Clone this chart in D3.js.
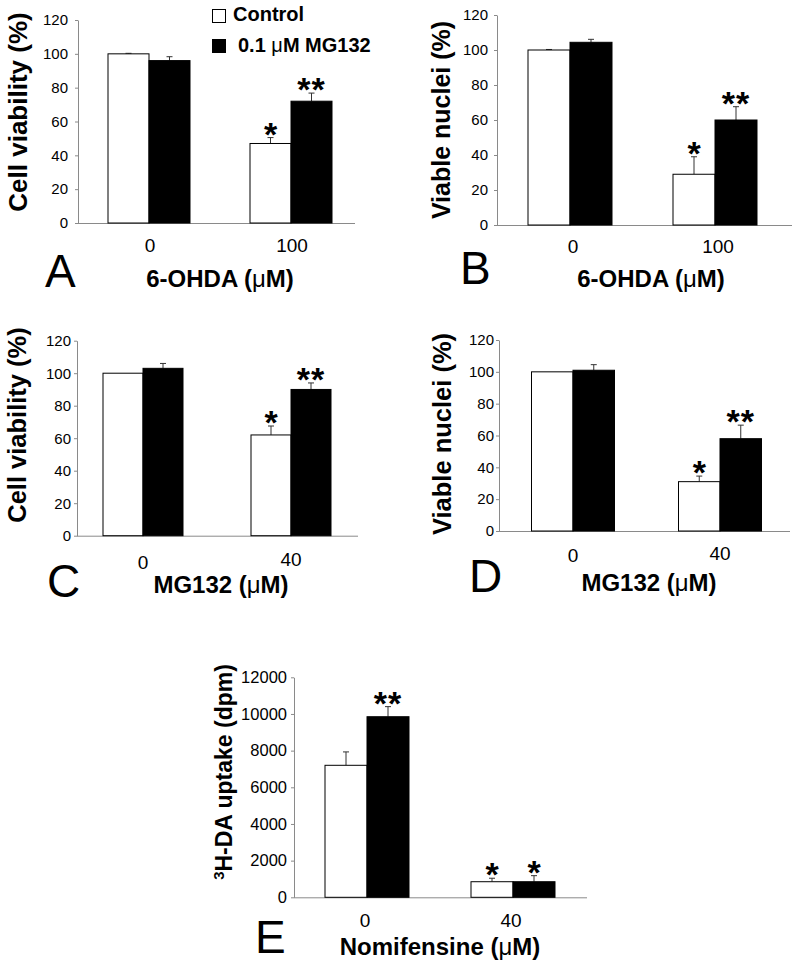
<!DOCTYPE html>
<html><head><meta charset="utf-8">
<script src="https://cdn.jsdelivr.net/npm/d3@7"></script>
<style>
body{margin:0;background:#fff;}
svg text{font-family:"Liberation Sans",Arial,Helvetica,sans-serif;fill:#000;}
</style></head>
<body><svg id="c" width="800" height="969"></svg>
<script>
// ---------- data ----------
const seriesNames = ["Control", "0.1 \u03bcM MG132"];
const percentTicks = [0, 20, 40, 60, 80, 100, 120];
const dpmTicks = [0, 2000, 4000, 6000, 8000, 10000, 12000];

const groupsA = ["0", "100"];
const ctrlA = [100, 47];   const ctrlErrA = [0.3, 3.5];
const mgA   = [96, 72];    const mgErrA   = [2.3, 4.8];
const starCtrlA = ["", "*"]; const starMgA = ["", "**"];

const groupsB = ["0", "100"];
const ctrlB = [100, 29];   const ctrlErrB = [0.3, 10];
const mgB   = [104.4, 60]; const mgErrB   = [1.7, 7.6];
const starCtrlB = ["", "*"]; const starMgB = ["", "**"];

const groupsC = ["0", "40"];
const ctrlC = [100, 62];   const ctrlErrC = [0, 5.5];
const mgC   = [103, 90];   const mgErrC   = [3, 4];
const starCtrlC = ["", "*"]; const starMgC = ["", "**"];

const groupsD = ["0", "40"];
const ctrlD = [100, 31];   const ctrlErrD = [0, 3.5];
const mgD   = [101, 58];   const mgErrD   = [3.5, 8.5];
const starCtrlD = ["", "*"]; const starMgD = ["", "**"];

const groupsE = ["0", "40"];
const ctrlE = [7200, 850]; const ctrlErrE = [730, 190];
const mgE   = [9850, 850]; const mgErrE   = [550, 330];
const starCtrlE = ["", "*"]; const starMgE = ["**", "*"];

// ---------- layout ----------
const svg = d3.select("#c");
const FONT = '"Liberation Sans",Arial,Helvetica,sans-serif';

function panel(o) {
  const y = d3.scaleLinear().domain([0, d3.max(o.ticks)]).range([o.y0, o.yTop]);
  const x = d3.scalePoint().domain(o.groups).range([o.c0, o.c1]);
  const g = svg.append("g");

  // y axis
  const ax = g.append("g").attr("transform", `translate(${o.ax},0)`)
    .call(d3.axisLeft(y).tickValues(o.ticks).tickFormat(d3.format("d"))
      .tickSize(3).tickSizeOuter(0).tickPadding(o.tpad));
  ax.attr("font-family", FONT).attr("font-size", o.tfs);
  ax.selectAll("path,line").attr("stroke", "#8a8a8a").attr("stroke-width", 1);
  ax.selectAll("text").style("font-size", o.tfs + "px").attr("fill", "#000");

  // x axis line
  g.append("line").attr("x1", o.ax).attr("x2", o.right).attr("y1", o.y0 + 0.5).attr("y2", o.y0 + 0.5)
    .attr("stroke", "#8a8a8a").attr("stroke-width", 1);
  // x tick labels
  g.selectAll("text.xt").data(o.groups).enter().append("text")
    .attr("x", d => x(d) + o.xlOff).attr("y", (d, i) => o.y0 + o.xlb[i])
    .attr("text-anchor", "middle").style("font-size", "19px").text(d => d);

  const series = [
    {vals: o.ctrl, errs: o.ctrlErr, stars: o.starCtrl, fill: "#fff", off: -o.bw},
    {vals: o.mg, errs: o.mgErr, stars: o.starMg, fill: "#000", off: 0}
  ];
  series.forEach(s => {
    const data = o.groups.map((gr, i) => ({gr, v: s.vals[i], e: s.errs[i], st: s.stars[i]}));
    data.forEach(d => {
      if (d.e <= 0) return;
      const cx = x(d.gr) + s.off + o.bw / 2;
      g.append("line").attr("x1", cx).attr("x2", cx).attr("y1", y(d.v)).attr("y2", y(d.v + d.e))
        .attr("stroke", "#333").attr("stroke-width", 1);
      g.append("line").attr("x1", cx - 3).attr("x2", cx + 3).attr("y1", y(d.v + d.e)).attr("y2", y(d.v + d.e))
        .attr("stroke", "#333").attr("stroke-width", 1);
    });
    g.selectAll(null).data(data).enter().append("rect")
      .attr("x", d => x(d.gr) + s.off).attr("width", o.bw)
      .attr("y", d => y(d.v)).attr("height", d => y(0) - y(d.v))
      .attr("fill", s.fill).attr("stroke", "#000").attr("stroke-width", 1);
    g.selectAll(null).data(data.filter(d => d.st)).enter().append("text")
      .attr("x", d => x(d.gr) + s.off + o.bw / 2)
      .attr("y", d => y(d.v + d.e) - 11 + 19)
      .attr("text-anchor", "middle").style("font-size", "34px").attr("font-weight", "bold")
      .attr("letter-spacing", d => d.st.length > 1 ? "1px" : null)
      .text(d => d.st);
  });

  // x title
  const xt = g.append("text").attr("x", o.xtx).attr("y", o.xty).attr("text-anchor", "middle")
    .style("font-size", "24px").attr("font-weight", "bold");
  xt.append("tspan").text(o.xtitle[0]);
  xt.append("tspan").attr("font-weight", "normal").text("\u03bc");
  xt.append("tspan").text("M)");

  // y title
  const yt = g.append("text").attr("transform", `translate(${o.ytx},${o.yty}) rotate(-90)`)
    .attr("text-anchor", "middle").style("font-size", o.yfs + "px").attr("font-weight", "bold");
  if (o.ysup) {
    yt.append("tspan").style("font-size", (o.yfs * 0.65) + "px").attr("dy", -o.yfs * 0.35).text(o.ysup);
    yt.append("tspan").attr("dy", o.yfs * 0.35).text(o.ytitle);
  } else yt.text(o.ytitle);

  // panel letter
  g.append("text").attr("x", o.lx).attr("y", o.ly).style("font-size", "46px").text(o.letter);
}

panel({groups: groupsA, ctrl: ctrlA, ctrlErr: ctrlErrA, mg: mgA, mgErr: mgErrA, starCtrl: starCtrlA, starMg: starMgA,
  ticks: percentTicks, ax: 78, right: 355, y0: 223, yTop: 20, c0: 149, c1: 291, bw: 41, tpad: 7, tfs: 15,
  xlOff: 1, xlb: [29, 29], xtitle: ["6-OHDA ("], xtx: 220, xty: 287,
  ytitle: "Cell viability (%)", ytx: 27, yty: 112, yfs: 26, letter: "A", lx: 45, ly: 287});

panel({groups: groupsB, ctrl: ctrlB, ctrlErr: ctrlErrB, mg: mgB, mgErr: mgErrB, starCtrl: starCtrlB, starMg: starMgB,
  ticks: percentTicks, ax: 497, right: 792, y0: 225, yTop: 15, c0: 570, c1: 715, bw: 42, tpad: 6, tfs: 15,
  xlOff: 3, xlb: [28, 28], xtitle: ["6-OHDA ("], xtx: 651, xty: 287,
  ytitle: "Viable nuclei (%)", ytx: 450, yty: 120, yfs: 25, letter: "B", lx: 460, ly: 284});

panel({groups: groupsC, ctrl: ctrlC, ctrlErr: ctrlErrC, mg: mgC, mgErr: mgErrC, starCtrl: starCtrlC, starMg: starMgC,
  ticks: percentTicks, ax: 77, right: 358, y0: 535.7, yTop: 340.7, c0: 143, c1: 291, bw: 40, tpad: 3, tfs: 15,
  xlOff: 0, xlb: [33, 30], xtitle: ["MG132 ("], xtx: 221, xty: 593,
  ytitle: "Cell viability (%)", ytx: 26, yty: 425, yfs: 25.5, letter: "C", lx: 47, ly: 597});

panel({groups: groupsD, ctrl: ctrlD, ctrlErr: ctrlErrD, mg: mgD, mgErr: mgErrD, starCtrl: starCtrlD, starMg: starMgD,
  ticks: percentTicks, ax: 499, right: 790, y0: 531, yTop: 340, c0: 573, c1: 720, bw: 41.5, tpad: 2, tfs: 15,
  xlOff: 0, xlb: [31, 29], xtitle: ["MG132 ("], xtx: 649, xty: 591,
  ytitle: "Viable nuclei (%)", ytx: 451, yty: 434, yfs: 25.5, letter: "D", lx: 469, ly: 592});

panel({groups: groupsE, ctrl: ctrlE, ctrlErr: ctrlErrE, mg: mgE, mgErr: mgErrE, starCtrl: starCtrlE, starMg: starMgE,
  ticks: dpmTicks, ax: 294, right: 587, y0: 897.3, yTop: 677.3, c0: 367, c1: 513, bw: 42, tpad: 4, tfs: 16.5,
  xlOff: -2, xlb: [30, 30], xtitle: ["Nomifensine ("], xtx: 440, xty: 955,
  ytitle: "H-DA uptake (dpm)", ysup: "3", ytx: 232, yty: 772, yfs: 23, letter: "E", lx: 255, ly: 953});

// legend
const leg = svg.append("g");
seriesNames.forEach((n, i) => {
  leg.append("rect").attr("x", 212.5).attr("y", 9.5 + i * 30).attr("width", 13).attr("height", 13)
    .attr("fill", i ? "#000" : "#fff").attr("stroke", "#000").attr("stroke-width", 1);
  const t = leg.append("text").attr("x", i ? 238 : 233).attr("y", 21 + i * 31)
    .style("font-size", "20px").attr("font-weight", "bold");
  if (i) {
    t.append("tspan").text("0.1 ");
    t.append("tspan").attr("font-weight", "normal").text("\u03bc");
    t.append("tspan").text("M MG132");
  } else t.text(n);
});
</script></body></html>
